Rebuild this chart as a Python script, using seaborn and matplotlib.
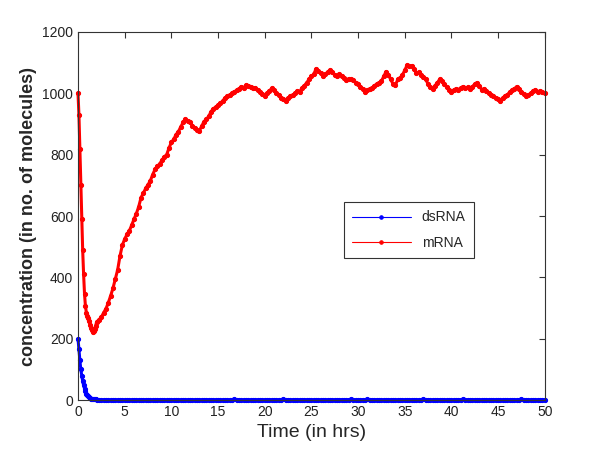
import numpy as np
import pandas as pd
import matplotlib
matplotlib.use("Agg")
import matplotlib.pyplot as plt
import seaborn as sns

# time grid: fine steps during the initial drop, coarser afterwards
t_early = np.round(np.arange(0, 2.01, 0.1), 2)
t_late = np.round(np.arange(2.25, 50.01, 0.25), 2)

mrna_early = [1000, 930, 820, 700, 590, 490, 410, 345, 305, 285, 275,
              268, 258, 245, 236, 228, 222, 224, 232, 243, 255]
mrna_late = [
    262, 270, 285, 298, 318, 340, 365, 395,
    425, 470, 505, 525, 540, 552, 570, 590,
    608, 630, 660, 675, 690, 702, 715, 735,
    752, 762, 770, 782, 793, 800, 822, 840,
    850, 865, 875, 890, 905, 915, 910, 905,
    895, 888, 880, 878, 893, 908, 915, 925,
    940, 950, 955, 962, 968, 975, 985, 990,
    995, 1000, 1005, 1010, 1015, 1022, 1018, 1027,
    1025, 1022, 1016, 1018, 1010, 1005, 998, 992,
    1000, 1008, 1016, 1010, 1000, 995, 985, 982,
    975, 985, 990, 995, 1000, 1008, 1005, 1018,
    1025, 1035, 1045, 1055, 1062, 1080, 1072, 1065,
    1058, 1062, 1070, 1076, 1068, 1060, 1057, 1062,
    1055, 1050, 1043, 1048, 1046, 1043, 1035, 1030,
    1022, 1015, 1005, 1010, 1015, 1018, 1025, 1030,
    1035, 1040, 1055, 1071, 1060, 1045, 1030, 1027,
    1045, 1050, 1060, 1075, 1092, 1088, 1090, 1078,
    1065, 1068, 1060, 1054, 1045, 1030, 1020, 1013,
    1025, 1035, 1046, 1040, 1030, 1020, 1012, 1005,
    1010, 1015, 1012, 1018, 1022, 1016, 1020, 1015,
    1022, 1030, 1035, 1025, 1011, 1015, 1008, 1000,
    995, 990, 985, 980, 975, 985, 992, 995,
    1005, 1010, 1015, 1022, 1015, 1005, 998, 991,
    995, 1000, 1008, 1011, 1005, 1008, 1003, 1002,
]

dsrna_early = [200, 165, 130, 100, 80, 62, 48, 37, 28, 21, 16,
               12, 9, 7, 5, 4, 3, 3, 2, 2, 1]
dsrna_late = [
    1, 1, 0, 1, 0, 0, 1, 0, 0, 0, 1, 0, 0, 0, 0, 1, 0, 0, 0, 0, 1, 0, 0, 0,
    0, 0, 1, 0, 0, 0, 0, 0, 1, 1, 0, 0, 0, 0, 0, 1, 0, 0, 0, 0, 0, 0, 1, 0,
    0, 0, 0, 1, 0, 0, 0, 0, 0, 1, 2, 1, 0, 0, 0, 0, 0, 0, 1, 0, 0, 0, 0, 0,
    0, 1, 0, 0, 0, 0, 1, 2, 1, 0, 0, 0, 0, 0, 0, 0, 1, 0, 0, 0, 0, 0, 0, 0,
    0, 0, 0, 0, 0, 0, 0, 0, 1, 0, 0, 1, 2, 1, 0, 0, 0, 1, 1, 2, 1, 0, 0, 1,
    1, 0, 0, 0, 0, 1, 0, 0, 0, 0, 1, 0, 0, 0, 1, 1, 0, 0, 1, 2, 1, 0, 0, 0,
    0, 1, 1, 0, 0, 0, 1, 0, 0, 0, 1, 1, 2, 1, 0, 0, 0, 1, 0, 0, 0, 0, 1, 0,
    0, 0, 1, 1, 0, 0, 0, 0, 1, 0, 0, 0, 1, 2, 1, 0, 0, 0, 1, 0, 0, 0, 0, 1,
]

time = np.concatenate([t_early, t_late])
mrna = np.array(mrna_early + mrna_late, dtype=float)
dsrna = np.array(dsrna_early + dsrna_late, dtype=float)

df = pd.DataFrame({"time": time, "dsRNA": dsrna, "mRNA": mrna})

sns.set_style("white")
plt.rcParams["font.family"] = ["Liberation Sans", "DejaVu Sans"]

fig = plt.figure(figsize=(6, 4.5), dpi=100)
ax = fig.add_axes([0.13, 0.111, 0.778, 0.818])

for col, color in [("dsRNA", "#0000ff"), ("mRNA", "#ff0000")]:
    sns.lineplot(data=df, x="time", y=col, color=color, marker=".", markersize=6,
                 markeredgecolor=color, linewidth=2.2, label=col, ax=ax,
                 clip_on=False, estimator=None)

ax.set_xlim(0, 50)
ax.set_ylim(0, 1200)
ax.set_xticks(range(0, 51, 5))
ax.set_yticks(range(0, 1201, 200))
ax.tick_params(direction="in", top=True, right=True, length=4, width=0.8,
               labelsize=10, labelcolor="#222222", color="#333333")
for s in ax.spines.values():
    s.set_visible(True)
    s.set_color("#333333")
    s.set_linewidth(0.8)

ax.set_xlabel("Time (in hrs)", fontsize=14)
ax.set_ylabel("concentration (in no. of molecules)", fontsize=13, fontweight="bold")

leg = ax.legend(loc="center", bbox_to_anchor=(0.709, 0.462), fontsize=10,
                frameon=True, fancybox=False, edgecolor="black", handlelength=4.2,
                borderpad=0.6, labelspacing=0.8)
leg.get_frame().set_linewidth(0.8)
for h in leg.get_lines():
    h.set_linewidth(0.8)
    h.set_markersize(5)

fig.savefig("out.png", dpi=100)
